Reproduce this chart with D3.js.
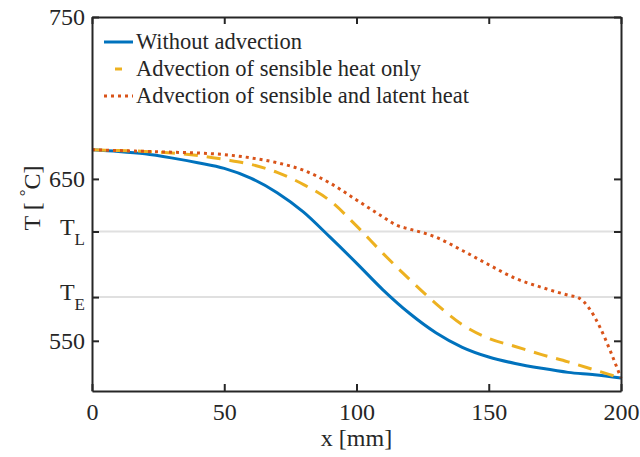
<!DOCTYPE html>
<html>
<head>
<meta charset="utf-8">
<script src="https://cdnjs.cloudflare.com/ajax/libs/d3/7.8.5/d3.min.js"></script>
<style>
    body { margin: 0; background: #fff; }
    svg text { font-family: "Liberation Serif", "Times New Roman", "DejaVu Serif", serif !important; fill: #262626; }
</style>
</head>
<body>
<svg id="chart" width="640" height="457"></svg>
<script>
const xPos = [0, 10, 20, 30, 40, 50, 60, 70, 80, 90, 100, 110, 120, 130, 140, 150, 160, 170, 180, 190, 200];
const noAdvection = [668, 667, 665.5, 663, 660, 656.5, 650.5, 641.5, 629.5, 614, 598, 581.5, 567, 555, 546, 540, 536, 533, 530.5, 529, 527];
const sensibleOnly = [668, 667.5, 667, 666, 664.5, 662, 659, 654, 646.5, 636.5, 621, 604, 588, 573, 560, 551.5, 546.5, 541.5, 537, 532, 527];

const xLatent = [0, 10, 20, 30, 40, 50, 60, 70, 80, 90, 100, 110, 115, 120, 125, 130, 140, 150, 160, 170, 180, 184, 200];
const sensibleLatent = [668, 667.5, 667, 666.5, 666, 665, 663, 660, 655.3, 647.4, 637, 626.5, 621.5, 619, 616.8, 614, 605.8, 597, 588.6, 583, 578.2, 576.5, 527];

const xTicks = [0, 50, 100, 150, 200];
const yTicks = [550, 577, 617.5, 650, 750];
const yTickLabels = ["550", ["T", "E"], ["T", "L"], "650", "750"];
const gridLevels = [577, 617.5];

const seriesNames = ["Without advection", "Advection of sensible heat only", "Advection of sensible and latent heat"];
const colors = ["#0072BD", "#EDB120", "#D95319"];
const dashes = [null, "14,9", "3,4"];

const serif = "'Liberation Serif', 'Times New Roman', 'DejaVu Serif', serif";
const svg = d3.select("#chart").attr("font-family", serif);
const plotLeft = 92, plotRight = 621, plotTop = 17, plotBottom = 391;

const x = d3.scaleLinear().domain([0, 200]).range([plotLeft, plotRight]);
const y = d3.scaleLinear().domain([519, 750]).range([plotBottom, plotTop]);

// grid lines at liquidus / eutectic
svg.append("g")
    .selectAll("line")
    .data(gridLevels)
    .enter().append("line")
    .attr("x1", plotLeft).attr("x2", plotRight)
    .attr("y1", function(d) { return y(d); })
    .attr("y2", function(d) { return y(d); })
    .attr("stroke", "#e0e0e0")
    .attr("stroke-width", 2);

const series = [
    xPos.map(function(v, i) { return [v, noAdvection[i]]; }),
    xPos.map(function(v, i) { return [v, sensibleOnly[i]]; }),
    xLatent.map(function(v, i) { return [v, sensibleLatent[i]]; })
];

const line = d3.line()
    .x(function(d) { return x(d[0]); })
    .y(function(d) { return y(d[1]); })
    .curve(d3.curveMonotoneX);

svg.append("g")
    .selectAll("path")
    .data(series)
    .enter().append("path")
    .attr("d", line)
    .attr("fill", "none")
    .attr("stroke", function(d, i) { return colors[i]; })
    .attr("stroke-width", 3)
    .attr("stroke-dasharray", function(d, i) { return dashes[i]; });

// axes with inward ticks, box on
const axisColor = "#262626";
const tickLen = 7;

const bottomAxis = svg.append("g")
    .attr("transform", "translate(0," + plotBottom + ")")
    .call(d3.axisBottom(x).tickValues(xTicks).tickSizeInner(-tickLen).tickSizeOuter(0).tickPadding(12));
const topAxis = svg.append("g")
    .attr("transform", "translate(0," + plotTop + ")")
    .call(d3.axisTop(x).tickValues(xTicks).tickSizeInner(-tickLen).tickSizeOuter(0).tickFormat(""));
const leftAxis = svg.append("g")
    .attr("transform", "translate(" + plotLeft + ",0)")
    .call(d3.axisLeft(y).tickValues(yTicks).tickSizeInner(-tickLen).tickSizeOuter(0).tickFormat(""));
const rightAxis = svg.append("g")
    .attr("transform", "translate(" + plotRight + ",0)")
    .call(d3.axisRight(y).tickValues(yTicks).tickSizeInner(-tickLen).tickSizeOuter(0).tickFormat(""));

[bottomAxis, topAxis, leftAxis, rightAxis].forEach(function(a) {
    a.attr("font-family", serif);
    a.select(".domain").attr("stroke", axisColor).attr("stroke-width", 2);
    a.selectAll(".tick line").attr("stroke", axisColor).attr("stroke-width", 2);
});

bottomAxis.selectAll(".tick text")
    .attr("font-size", 24)
    .attr("fill", axisColor);

// y tick labels, some with subscripts
const yLab = svg.append("g")
    .selectAll("text")
    .data(yTicks)
    .enter().append("text")
    .attr("x", 85)
    .attr("y", function(d) { return y(d) + 8; })
    .attr("text-anchor", "end")
    .attr("font-size", 24);

yLab.each(function(d, i) {
    const lab = yTickLabels[i];
    const t = d3.select(this);
    if (typeof lab === "string") {
        t.text(lab);
    } else {
        t.attr("y", y(d) + 3);
        t.append("tspan").text(lab[0]);
        t.append("tspan").attr("dy", 10).attr("font-size", 17).text(lab[1]);
    }
});

svg.append("text")
    .attr("x", (plotLeft + plotRight) / 2)
    .attr("y", 446)
    .attr("text-anchor", "middle")
    .attr("font-size", 24)
    .text("x [mm]");

const yTitle = svg.append("text")
    .attr("transform", "translate(40," + 198 + ") rotate(-90)")
    .attr("text-anchor", "middle")
    .attr("font-size", 24);
yTitle.append("tspan").text("T [ ");
yTitle.append("tspan").attr("dy", -9).attr("font-size", 17).text("°");
yTitle.append("tspan").attr("dy", 9).text("C]");

// legend
const legendY = [42, 69, 96];
const legend = svg.append("g")
    .selectAll("g")
    .data(seriesNames)
    .enter().append("g")
    .attr("transform", function(d, i) { return "translate(0," + legendY[i] + ")"; });

legend.append("line")
    .attr("x1", 104).attr("x2", 133)
    .attr("stroke", function(d, i) { return colors[i]; })
    .attr("stroke-width", 3)
    .attr("stroke-dasharray", function(d, i) { return i === 1 ? "0,11,7,20" : dashes[i]; });

legend.append("text")
    .attr("x", 136)
    .attr("y", 7)
    .attr("font-size", 22.5)
    .text(function(d) { return d; });
</script>
</body>
</html>
